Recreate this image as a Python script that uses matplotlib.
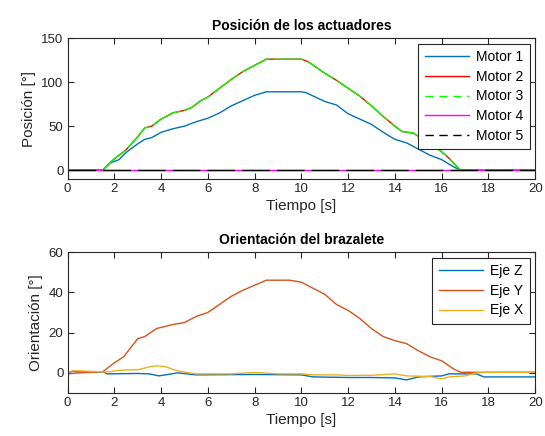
import matplotlib
matplotlib.use('Agg')
import matplotlib.pyplot as plt
from matplotlib.lines import Line2D
import numpy as np

plt.rcParams['font.family'] = ['Liberation Sans', 'DejaVu Sans']

# Posicion de los actuadores
t_m1 = [0, 1.5, 1.8, 2.2, 2.5, 3.0, 3.3, 3.6, 4.0, 4.5, 5.0, 5.5, 6.0, 6.5, 7.0, 7.5,
        8.0, 8.5, 10.0, 10.2, 11.0, 11.5, 12.0, 12.5, 13.0, 13.5, 14.0, 14.5, 15.0,
        15.5, 16.0, 16.5, 16.8, 20]
motor1 = [0, 0, 8, 12, 20, 30, 35, 37, 43, 47, 50, 55, 59, 65, 73, 79,
          85, 89, 89, 88, 78, 74, 64, 58, 52, 43, 35, 31, 24,
          17, 12, 4, 0, 0]

t_m2 = [0, 1.5, 1.8, 2.0, 2.5, 3.0, 3.3, 3.6, 4.0, 4.5, 5.0, 5.3, 5.7, 6.0, 6.5, 7.0,
        7.5, 8.0, 8.5, 10.0, 10.3, 11.0, 11.5, 12.0, 12.5, 13.0, 13.5, 14.0, 14.3,
        14.8, 15.2, 15.5, 16.0, 16.3, 16.8, 20]
motor2 = [0, 0, 8, 13, 23, 38, 48, 50, 58, 65, 68, 71, 79, 83, 93, 103,
          112, 119, 126, 126, 123, 110, 102, 93, 84, 73, 61, 50, 44,
          42, 35, 30, 21, 14, 0, 0]
motor3 = motor2
t_zero = [0, 20]
motor4 = [0, 0]
motor5 = [0, 0]

# Orientacion del brazalete
t_y = [0, 0.5, 1.5, 2.0, 2.4, 3.0, 3.3, 3.8, 4.5, 5.0, 5.5, 6.0, 6.5, 7.0, 7.5, 8.0,
       8.5, 9.5, 10.0, 10.5, 11.0, 11.5, 12.0, 12.5, 13.0, 13.5, 14.0, 14.5, 15.0,
       15.5, 16.0, 16.5, 16.8, 20]
eje_y = [-0.5, 0, 0.5, 5, 8, 17, 18, 22, 24, 25, 28, 30, 34, 38, 41, 43.5,
         46, 46, 45, 42, 39, 34, 31, 27, 22, 18, 16, 14.5, 11,
         8, 6, 2, 0.3, 0.3]

t_z = [0, 0.2, 0.5, 1.5, 1.7, 3.0, 3.5, 3.9, 4.3, 4.7, 5.5, 8.0, 10.0, 10.5, 12.0,
       13.0, 14.0, 14.5, 15.0, 16.0, 16.3, 17.5, 17.8, 20]
eje_z = [-0.5, 0.8, 0.5, 0.5, -0.5, -0.3, -0.5, -1.5, -0.8, 0, -1, -0.8, -1, -2, -2.3,
         -2.3, -2.5, -3.5, -2, -1.5, -0.5, -0.5, -2, -2]

t_x = [0, 0.2, 0.5, 1.5, 1.8, 2.0, 2.5, 3.0, 3.5, 3.8, 4.2, 4.7, 5.2, 5.5, 7.0, 8.0,
       9.0, 10.0, 10.5, 11.5, 12.0, 13.0, 14.0, 14.5, 15.5, 16.0, 16.3, 17.0, 17.5,
       18.0, 20]
eje_x = [0, 1, 1, 0.5, 0.5, 1, 1.5, 1.5, 3, 3.5, 3, 1, 0, -0.5, -0.5, 0.2,
         -0.5, -0.5, -1, -1, -1.3, -1.2, -0.5, -1.5, -1.8, -3, -2, -1.5, 0,
         0.3, 0.3]

fig = plt.figure(figsize=(5.45, 4.36), dpi=100)
ax1 = fig.add_axes([0.124, 0.5894, 0.858, 0.3234])
ax2 = fig.add_axes([0.124, 0.0986, 0.858, 0.3234])

ax1.plot(t_m1, motor1, color='#0072BD', lw=1)
ax1.plot(t_m2, motor2, color='#FF0000', lw=1)
ax1.plot(t_m2, motor3, color='#00FF00', lw=1, dashes=(22, 3))
ax1.plot(t_zero, motor4, color='#FF00FF', lw=1)
ax1.plot(t_zero, motor5, color='#000000', lw=1, dashes=(20, 5))
handles1 = [
    Line2D([], [], color='#0072BD', lw=1),
    Line2D([], [], color='#FF0000', lw=1),
    Line2D([], [], color='#00FF00', lw=1, dashes=(6, 4)),
    Line2D([], [], color='#FF00FF', lw=1),
    Line2D([], [], color='#000000', lw=1, dashes=(6, 4)),
]
labels1 = ['Motor 1', 'Motor 2', 'Motor 3', 'Motor 4', 'Motor 5']
ax1.set_xlim(0, 20)
ax1.set_ylim(-10, 150)
ax1.set_yticks([0, 50, 100, 150])
ax1.set_title('Posición de los actuadores', fontsize=10, fontweight='bold', pad=6)
ax1.set_ylabel('Posición [°]', fontsize=11, color='#262626')
ax1.set_xlabel('Tiempo [s]', fontsize=11, color='#262626', labelpad=3)

ax2.plot(t_z, eje_z, color='#0072BD', lw=1, label='Eje Z')
ax2.plot(t_y, eje_y, color='#D95319', lw=1, label='Eje Y')
ax2.plot(t_x, eje_x, color='#EDB120', lw=1, label='Eje X')
ax2.set_xlim(0, 20)
ax2.set_ylim(-10, 60)
ax2.set_yticks([0, 20, 40, 60])
ax2.set_title('Orientación del brazalete', fontsize=10, fontweight='bold', pad=6)
ax2.set_ylabel('Orientación [°]', fontsize=11, color='#262626')
ax2.set_xlabel('Tiempo [s]', fontsize=11, color='#262626', labelpad=3)

legend_kw = dict(loc='upper right', fontsize=10, fancybox=False, framealpha=1,
                 edgecolor='#262626', handlelength=3.2, borderaxespad=0.4,
                 labelspacing=0.42, handletextpad=0.5, borderpad=0.45)
leg1 = ax1.legend(handles1, labels1, **legend_kw)
leg2 = ax2.legend(**legend_kw)

for ax, leg in ((ax1, leg1), (ax2, leg2)):
    ax.set_xticks(np.arange(0, 21, 2))
    ax.tick_params(direction='in', top=True, right=True, length=4, width=0.8,
                   labelsize=9.5, colors='#262626', pad=3)
    for s in ax.spines.values():
        s.set_linewidth(0.8)
        s.set_color('#262626')
    leg.get_frame().set_linewidth(0.8)

fig.savefig('out.png', dpi=100)
